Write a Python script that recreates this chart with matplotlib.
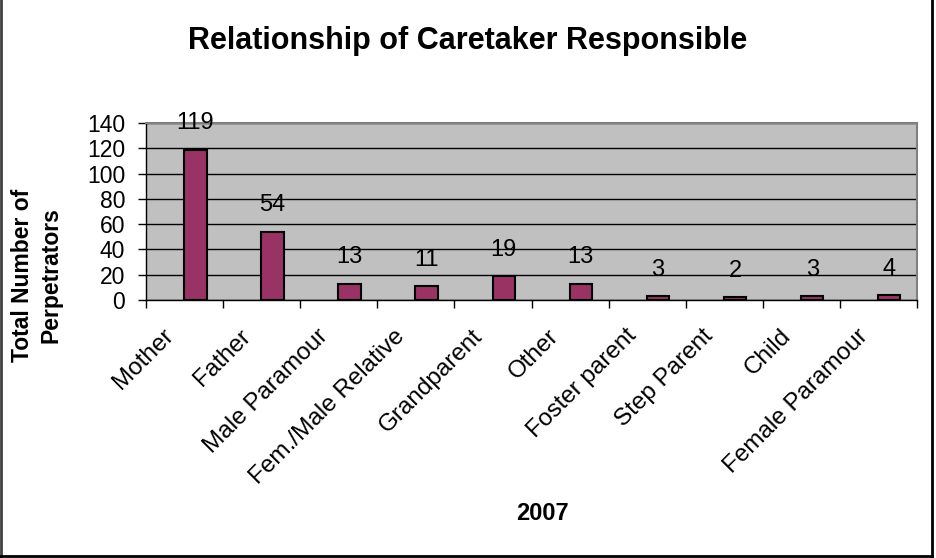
import matplotlib
matplotlib.use("Agg")
import matplotlib.pyplot as plt
from matplotlib.lines import Line2D
from matplotlib.transforms import ScaledTranslation
import numpy as np

plt.rcParams['font.family'] = ['Liberation Sans', 'DejaVu Sans']

categories = ["Mother", "Father", "Male Paramour", "Fem./Male Relative", "Grandparent",
              "Other", "Foster parent", "Step Parent", "Child", "Female Paramour"]
counts = [119, 54, 13, 11, 19, 13, 3, 2, 3, 4]
y_ticks = [0, 20, 40, 60, 80, 100, 120, 140]

W, H = 937, 558
fig = plt.figure(figsize=(W / 100, H / 100), dpi=100)
fig.patch.set_facecolor("white")

ax = fig.add_axes([146 / W, 1 - 300 / H, (917 - 146) / W, (300 - 123) / H])
ax.set_facecolor("#C0C0C0")

x = np.arange(len(categories))
bar_shift = 0.14
ax.bar(x + bar_shift, counts, width=0.29, color="#993366", edgecolor="black", linewidth=1.5, zorder=3)

for xi, v in zip(x, counts):
    ax.annotate(str(v), (xi + bar_shift, v), xytext=(0, 19), textcoords="offset points",
                ha="center", va="center", fontsize=17, zorder=4)

ax.set_xlim(-0.5, len(categories) - 0.5)
ax.set_ylim(0, 140)
ax.set_yticks(y_ticks)
ax.set_yticklabels([str(t) for t in y_ticks], fontsize=16.5)
ax.yaxis.grid(True, color="black", linewidth=1, zorder=1)
ax.set_axisbelow(True)

# tick marks sit on the category boundaries; names are placed under each category
ax.set_xticks(np.arange(-0.5, len(categories)), labels=[""] * (len(categories) + 1))
ax.tick_params(axis="x", which="major", length=6, width=1, color="black", direction="out")
ax.tick_params(axis="y", length=6, width=1, color="black", pad=9)

label_trans = ax.get_xaxis_transform() + ScaledTranslation(-22 / 100, -25 / 100, fig.dpi_scale_trans)
for xi, name in zip(x, categories):
    ax.text(xi, 0, name, transform=label_trans, rotation=45, ha="right", va="top",
            rotation_mode="anchor", fontsize=17.5, clip_on=False)

for side in ("top", "right"):
    ax.spines[side].set_color("#808080")
    ax.spines[side].set_linewidth(1.5)
for side in ("left", "bottom"):
    ax.spines[side].set_color("black")
    ax.spines[side].set_linewidth(1)

fig.text(468 / W, 1 - 41 / H, "Relationship of Caretaker Responsible", ha="center", va="center",
         fontsize=22, fontweight="bold")
fig.text(542 / W, 1 - 514 / H, "2007", ha="center", va="center", fontsize=17, fontweight="bold")
fig.text(37 / W, 1 - 275 / H, "Total Number of\nPerpetrators", ha="center", va="center",
         rotation=90, fontsize=16.5, fontweight="bold", linespacing=1.3)

# chart frame
fig.add_artist(Line2D([1 / W, 1 / W], [0, 1], transform=fig.transFigure, color="#404040", lw=2))
fig.add_artist(Line2D([932 / W, 932 / W], [1 - 557 / H, 1], transform=fig.transFigure, color="black", lw=2))
fig.add_artist(Line2D([0, 932 / W], [1 - 556 / H, 1 - 556 / H], transform=fig.transFigure, color="black", lw=2))

fig.savefig("out.png", dpi=100)
